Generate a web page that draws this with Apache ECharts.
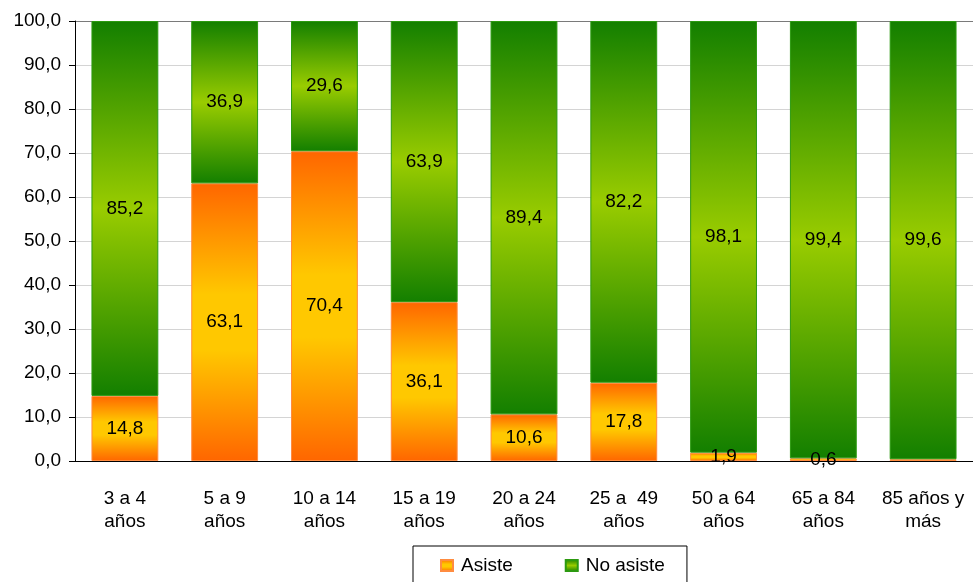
<!DOCTYPE html>
<html>
<head>
<meta charset="utf-8">
<script src="https://cdn.jsdelivr.net/npm/echarts@6/dist/echarts.min.js"></script>
<style>html,body{margin:0;padding:0;background:#fff}#c{width:973px;height:582px}</style>
</head>
<body>
<div id="c"></div>
<script>
const categories = ['3 a 4\naños', '5 a 9\naños', '10 a 14\naños', '15 a 19\naños', '20 a 24\naños', '25 a  49\naños', '50 a 64\naños', '65 a 84\naños', '85 años y\nmás'];
const asiste = [14.8, 63.1, 70.4, 36.1, 10.6, 17.8, 1.9, 0.6, 0.4];
const noAsiste = [85.2, 36.9, 29.6, 63.9, 89.4, 82.2, 98.1, 99.4, 99.6];
const seriesNames = ['Asiste', 'No asiste'];

const FONT = 'Liberation Sans, Arial, sans-serif';
const fmt = v => v.toFixed(1).replace('.', ',');
const orangeGrad = new echarts.graphic.LinearGradient(0, 0, 0, 1, [
  {offset: 0, color: '#ff6600'}, {offset: 0.4, color: '#ffc800'},
  {offset: 0.6, color: '#ffc800'}, {offset: 1, color: '#ff6600'}]);
const greenGrad = new echarts.graphic.LinearGradient(0, 0, 0, 1, [
  {offset: 0, color: '#137f00'}, {offset: 0.5, color: '#99cc00'}, {offset: 1, color: '#137f00'}]);
const splitColors = ['#d4d4d4','#d4d4d4','#d4d4d4','#d4d4d4','#d4d4d4','#d4d4d4','#d4d4d4','#d4d4d4','#d4d4d4','#d4d4d4','#7a7a7a'];

const chart = echarts.init(document.getElementById('c'));
chart.setOption({
  animation: false,
  grid: {left: 75, top: 21, width: 900, height: 440},
  legend: {
    left: 413, top: 546,
    data: seriesNames,
    icon: 'rect', itemWidth: 12, itemHeight: 11, itemGap: 52,
    borderColor: '#000', borderWidth: 1, borderRadius: 0,
    padding: [10, 22, 10, 27],
    textStyle: {fontFamily: FONT, fontSize: 19, color: '#000', padding: [0, 0, 0, 3]}
  },
  xAxis: {
    type: 'category', data: categories,
    axisLine: {lineStyle: {color: '#000'}},
    axisTick: {length: 6, lineStyle: {color: '#000'}},
    axisLabel: {fontFamily: FONT, fontSize: 19, color: '#000', lineHeight: 23, margin: 26, interval: 0}
  },
  yAxis: {
    type: 'value', min: 0, max: 100, interval: 10,
    axisLine: {show: true, lineStyle: {color: '#000'}},
    axisTick: {show: true, length: 6, lineStyle: {color: '#000'}},
    splitLine: {lineStyle: {color: splitColors}},
    axisLabel: {fontFamily: FONT, fontSize: 19, color: '#000', margin: 14, formatter: v => fmt(v)}
  },
  series: [
    {
      name: seriesNames[0], type: 'bar', stack: 's', data: asiste, barWidth: '67%',
      itemStyle: {color: orangeGrad, borderColor: '#ff8c40', borderWidth: 1},
      label: {show: true, position: 'inside', fontFamily: FONT, fontSize: 19, color: '#000',
        formatter: p => p.value < 0.5 ? '' : fmt(p.value)}
    },
    {
      name: seriesNames[1], type: 'bar', stack: 's', data: noAsiste, barWidth: '67%',
      itemStyle: {color: greenGrad, borderColor: '#2c9a10', borderWidth: 1},
      label: {show: true, position: 'inside', fontFamily: FONT, fontSize: 19, color: '#000',
        formatter: p => fmt(p.value)}
    }
  ]
});
</script>
</body>
</html>
